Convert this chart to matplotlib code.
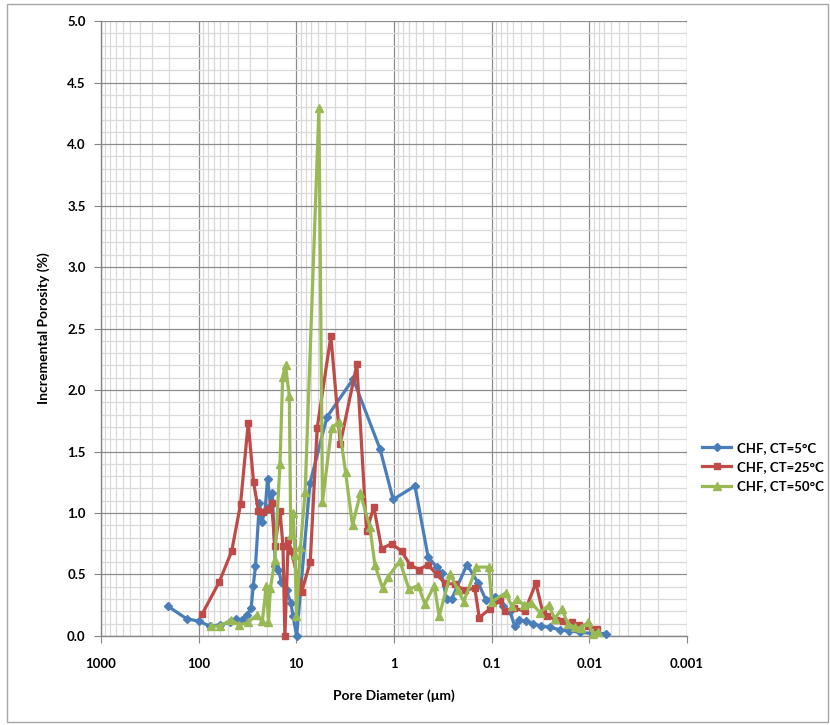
import matplotlib.pyplot as plt
from matplotlib.ticker import FixedLocator, NullFormatter, MultipleLocator
import matplotlib.patches as patches

# pore diameter (um) and incremental porosity (%)
d_5c = [205, 133, 99, 77, 60.5, 48, 41, 36, 32, 29, 27.6, 26.2, 23.9, 22.5, 20.9,
        19.7, 18.4, 17.6, 16.4, 15.3, 14.2, 12.6, 11.4, 10.8, 9.93, 7.26, 4.86,
        2.62, 1.39, 1.02, 0.61, 0.447, 0.364, 0.326, 0.29, 0.257, 0.179, 0.137,
        0.114, 0.093, 0.076, 0.065, 0.058, 0.053, 0.044, 0.038, 0.031, 0.025,
        0.020, 0.016, 0.0125, 0.0092, 0.0067]
p_5c = [0.24, 0.14, 0.12, 0.08, 0.09, 0.11, 0.14, 0.13, 0.17, 0.23, 0.41, 0.57,
        1.08, 0.93, 1.02, 1.28, 1.06, 1.16, 0.57, 0.54, 0.44, 0.37, 0.27, 0.16,
        0.0, 1.24, 1.78, 2.09, 1.52, 1.11, 1.22, 0.64, 0.56, 0.51, 0.30, 0.30,
        0.58, 0.43, 0.29, 0.32, 0.24, 0.20, 0.08, 0.13, 0.12, 0.10, 0.08, 0.07,
        0.05, 0.04, 0.03, 0.02, 0.02]

d_25c = [91.9, 61.5, 45.9, 37.3, 31.1, 27.4, 24.5, 21.8, 19.4, 17.9, 16.6, 14.7,
         13.7, 13.1, 12.1, 11.2, 9.57, 8.81, 7.21, 6.12, 4.43, 3.55, 2.40, 1.91,
         1.61, 1.34, 1.06, 0.836, 0.687, 0.556, 0.447, 0.366, 0.301, 0.238, 0.188,
         0.149, 0.134, 0.104, 0.0824, 0.0733, 0.0593, 0.0457, 0.0353, 0.0299,
         0.0269, 0.0217, 0.0185, 0.0152, 0.0128, 0.0104, 0.00844]
p_25c = [0.18, 0.44, 0.69, 1.07, 1.73, 1.25, 1.02, 1.01, 1.03, 1.08, 0.73, 1.02,
         0.73, 0.0, 0.78, 0.69, 0.45, 0.36, 0.60, 1.69, 2.44, 1.56, 2.21, 0.85,
         1.05, 0.71, 0.75, 0.69, 0.58, 0.54, 0.58, 0.50, 0.43, 0.42, 0.37, 0.39,
         0.15, 0.22, 0.29, 0.20, 0.23, 0.20, 0.43, 0.19, 0.16, 0.13, 0.12, 0.11,
         0.09, 0.085, 0.06]

d_50c = [74.8, 60.5, 46.7, 38.4, 31.2, 25.5, 22.3, 20.3, 19.3, 18.4, 16.6, 14.7,
         13.8, 12.9, 11.8, 11.4, 10.8, 10.3, 9.98, 9.08, 8.13, 5.87, 5.40, 4.36,
         3.70, 3.13, 2.66, 2.21, 1.77, 1.57, 1.31, 1.15, 0.871, 0.703, 0.565,
         0.483, 0.386, 0.345, 0.265, 0.220, 0.193, 0.143, 0.107, 0.100, 0.0716,
         0.0621, 0.0552, 0.0468, 0.0391, 0.0321, 0.0260, 0.0226, 0.0191, 0.0166,
         0.0141, 0.0122, 0.0103, 0.0092, 0.0082]
p_50c = [0.08, 0.08, 0.13, 0.09, 0.11, 0.17, 0.12, 0.41, 0.11, 0.39, 0.62, 1.40,
         2.11, 2.20, 1.95, 0.82, 1.00, 0.66, 0.16, 0.72, 1.17, 4.29, 1.09, 1.69,
         1.74, 1.33, 0.90, 1.16, 0.89, 0.58, 0.39, 0.48, 0.61, 0.38, 0.41, 0.26,
         0.41, 0.16, 0.50, 0.37, 0.28, 0.56, 0.56, 0.28, 0.35, 0.24, 0.30, 0.25,
         0.27, 0.19, 0.25, 0.14, 0.22, 0.10, 0.07, 0.065, 0.11, 0.02, 0.03]

x_ticks = [1000, 100, 10, 1, 0.1, 0.01, 0.001]
x_labels = ['1000', '100', '10', '1', '0.1', '0.01', '0.001']

plt.rcParams['font.family'] = ['Lato', 'DejaVu Sans']

fig = plt.figure(figsize=(8.3, 7.25), dpi=100)
fig.patch.set_facecolor('white')

# outer chart border
fig.patches.append(patches.Rectangle((0.008, 0.004), 0.99, 0.99, transform=fig.transFigure,
                                     fill=False, edgecolor='#a6a6a6', linewidth=1.0))

ax = fig.add_axes([0.1217, 0.1228, 0.706, 0.848])
ax.set_xscale('log')
ax.set_xlim(1000, 0.001)
ax.set_ylim(0, 5)

# gridlines (Excel style)
minor_x = [m * 10.0 ** e for e in range(-3, 3) for m in range(2, 10)]
ax.xaxis.set_major_locator(FixedLocator(x_ticks))
ax.xaxis.set_minor_locator(FixedLocator(minor_x))
ax.xaxis.set_minor_formatter(NullFormatter())
ax.set_xticklabels(x_labels)
ax.yaxis.set_major_locator(MultipleLocator(0.5))
ax.yaxis.set_minor_locator(MultipleLocator(0.1))
ax.yaxis.set_major_formatter(lambda v, pos: f'{v:.1f}')

ax.grid(which='minor', color='#d9d9d9', linewidth=0.9)
ax.grid(which='major', color='#8c8c8c', linewidth=0.9)
ax.set_axisbelow(True)

for s in ['top', 'right']:
    ax.spines[s].set_visible(False)
for s in ['left', 'bottom']:
    ax.spines[s].set_color('#868686')
    ax.spines[s].set_linewidth(1.0)

ax.tick_params(which='major', axis='x', length=5, color='#868686', pad=11, labelsize=9.5)
ax.tick_params(which='major', axis='y', length=5, color='#868686', pad=6, labelsize=9.5)
ax.tick_params(which='minor', length=0)
for lbl in ax.get_xticklabels() + ax.get_yticklabels():
    lbl.set_fontweight('bold')

ax.plot(d_5c, p_5c, color='#4a7ebb', linewidth=2.3, marker='D', markersize=4.5,
        label='CHF, CT=5\u00b0C', clip_on=False, zorder=3)
ax.plot(d_25c, p_25c, color='#be4b48', linewidth=2.3, marker='s', markersize=4.2,
        label='CHF, CT=25\u00b0C', clip_on=False, zorder=3)
ax.plot(d_50c, p_50c, color='#98b954', linewidth=2.3, marker='^', markersize=5.5,
        label='CHF, CT=50\u00b0C', clip_on=False, zorder=3)

ax.set_xlabel('Pore Diameter (\u03bcm)', fontsize=10, fontweight='bold', labelpad=14)
ax.set_ylabel('Incremental Porosity (%)', fontsize=10, fontweight='bold', labelpad=12)

fig.legend(loc='center left', bbox_to_anchor=(0.832, 0.356), frameon=False,
           handlelength=2.2, handletextpad=0.4, labelspacing=0.55,
           prop={'weight': 'bold', 'size': 9.5})

plt.savefig('out.png', dpi=100)
plt.close()
